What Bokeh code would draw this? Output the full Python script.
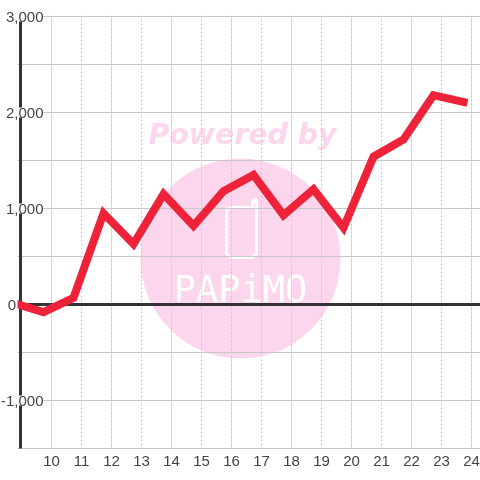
from bokeh.plotting import figure
from bokeh.models import Range1d, FixedTicker, LinearAxis, Grid
from bokeh.core.properties import value
from bokeh.embed import file_html
from bokeh.resources import INLINE

hours = [9, 10, 11, 12, 13, 14, 15, 16, 17, 18, 19, 20, 21, 22, 23, 24]
values = [15, -80, 70, 950, 630, 1150, 820, 1180, 1350, 930, 1200, 800, 1540, 1720, 2180, 2110]
x_ticks = list(range(10, 25))
y_grid = [-1500, -1000, -500, 0, 500, 1000, 1500, 2000, 2500, 3000]
y_label_values = [-1000, 1000, 2000, 3000]
y_labels = ["-1,000", "1,000", "2,000", "3,000"]
zero_label = ["0"]

FONT = "Liberation Sans"
LEFT, TOP, BOTTOM = 17, 15, 449


def dx(px):
    return 10 + (px - 51) / 30


def dy(py):
    return (304 - py) / 0.096


p = figure(width=480, height=480, output_backend="svg", toolbar_location=None,
           x_range=Range1d(dx(LEFT), dx(480)), y_range=Range1d(dy(BOTTOM), dy(TOP)),
           min_border_left=LEFT, min_border_right=0, min_border_top=TOP, min_border_bottom=480 - BOTTOM,
           outline_line_color=None, background_fill_color="white", border_fill_color="white",
           x_axis_location=None, y_axis_location=None)
p.styles = {"position": "fixed", "left": "0", "top": "0"}

# watermark
PINK = "#fcd6ec"
p.scatter([dx(240)], [dy(258)], size=200, marker="circle", fill_color=PINK, line_color=None, level="image")
p.text([dx(242)], [dy(134)], text=["Powered by"], text_font=value("DejaVu Sans"), text_font_style="bold italic",
       text_font_size="28.4px", text_color=PINK, text_align="center", text_baseline="middle", level="image")
p.line([dx(v) for v in (229, 226, 226, 230, 252, 256, 256, 255, 253, 252, 252, 229)],
       [dy(v) for v in (207, 210, 253, 257, 257, 253, 203, 199, 200, 203, 207, 207)],
       line_color="white", line_width=3, line_join="round", level="image")
p.text([dx(240)], [dy(289)], text=["PAPiMO"], text_font=value("DejaVu Sans Mono"),
       text_font_size="37px", text_color="white", text_align="center", text_baseline="middle", level="image")

# grids
p.add_layout(Grid(dimension=0, ticker=FixedTicker(ticks=x_ticks), bounds=(-1500, 3000),
                  grid_line_color="#c8c8c8", grid_line_width=1, grid_line_dash="2 2"))
p.add_layout(Grid(dimension=1, ticker=FixedTicker(ticks=y_grid), bounds=(dx(20), dx(480)),
                  grid_line_color="#c8c8c8", grid_line_width=1))

# x axis labels
ax = LinearAxis(ticker=FixedTicker(ticks=x_ticks), axis_line_color=None,
                major_tick_line_color=None, minor_tick_line_color=None,
                major_label_text_font=FONT, major_label_text_font_size="15px",
                major_label_text_color="#444444", major_label_standoff=0)
p.add_layout(ax, "below")

# zero line, y axis line
p.segment([dx(20)], [0], [dx(480)], [0], line_color="#333333", line_width=3)
p.segment([dx(20)], [3000], [dx(20)], [-1500], line_color="#333333", line_width=3)

# series
x_shift = -8 / 30  # series points sit left of the tick marks
p.line([h + x_shift for h in hours], values, line_color="#ee2238", line_width=8,
       line_join="miter", line_cap="square")

# y labels with white backing, drawn over the axis line
p.text([dx(43)] * len(y_labels), y_label_values, text=y_labels,
       text_font=value(FONT), text_font_size="15px", text_color="#444444",
       text_align="right", text_baseline="middle", background_fill_color="white", level="overlay")
p.text([dx(15.5)], [0], text=zero_label,
       text_font=value(FONT), text_font_size="15px", text_color="#444444",
       text_align="right", text_baseline="middle", level="overlay")

open("out.html", "w").write(file_html(p, INLINE))
